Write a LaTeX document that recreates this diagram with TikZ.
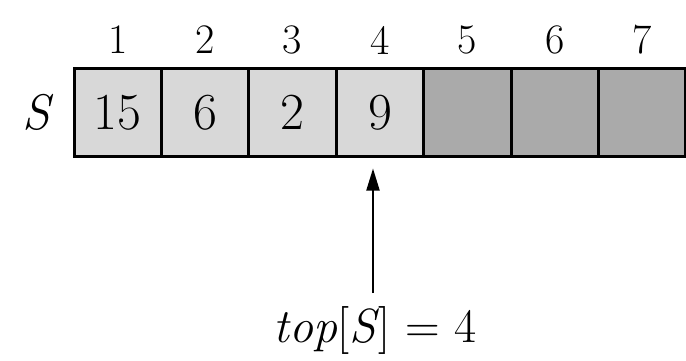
\documentclass[tikz,border=0pt]{standalone}
\usetikzlibrary{arrows.meta}
\definecolor{lightcell}{RGB}{216,216,216}
\definecolor{darkcell}{RGB}{170,170,170}
\tikzset{
  cellbox/.style={draw=black, line width=2.5pt, minimum width=87pt, minimum height=88pt, inner sep=0pt, anchor=north west, font=\fontsize{52}{52}\selectfont},
  usedcell/.style={cellbox, fill=lightcell},
  freecell/.style={cellbox, fill=darkcell},
  idx/.style={font=\fontsize{42}{42}\selectfont, inner sep=0pt},
  pointer/.style={line width=2pt, -{Triangle[length=22pt,width=13pt]}}
}
\begin{document}
\begin{tikzpicture}[x=1pt,y=-1pt]
\useasboundingbox (0,0) rectangle (686,360);
\node[usedcell] (c1) at (73,67) {15};
\node[usedcell] (c2) at (160.4,67) {6};
\node[usedcell] (c3) at (247.8,67) {2};
\node[usedcell] (c4) at (335.2,67) {9};
\node[freecell] (c5) at (422.6,67) {};
\node[freecell] (c6) at (510,67) {};
\node[freecell] (c7) at (597.4,67) {};
\foreach \i in {1,...,7} {
  \node[idx] (i\i) at ([yshift=27pt]c\i.north) {\i};
}
\node[font=\fontsize{50}{50}\selectfont\itshape, inner sep=0pt] (S) at (36,112) {S};
\coordinate (tail) at (373,293);
\node[font=\fontsize{48}{48}\selectfont, inner sep=0pt] (lbl) at (375,330) {\textit{top}[\textit{S}] = 4};
\draw[pointer] (tail) -- ([yshift=-11pt]tail |- c4.south);
\end{tikzpicture}
\end{document}
